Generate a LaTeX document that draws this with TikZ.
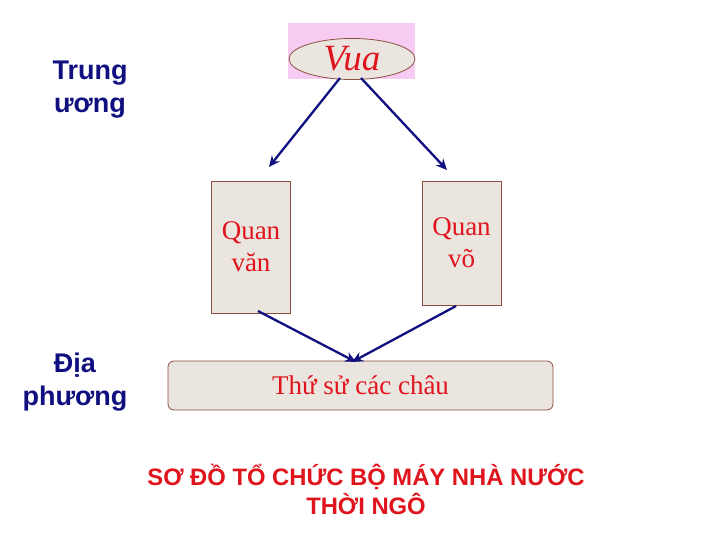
\documentclass[tikz,border=0pt]{standalone}
\usepackage{fontspec}
\setmainfont{Liberation Serif}
\setsansfont{Liberation Sans}
\usetikzlibrary{arrows.meta,shapes.geometric}
\definecolor{navy}{HTML}{0F0F80}
\definecolor{arrowc}{HTML}{101080}
\definecolor{redt}{HTML}{E0141C}
\definecolor{boxfill}{HTML}{EBE5DF}
\definecolor{boxline}{HTML}{8C5040}
\definecolor{pinkbg}{HTML}{F8CCF2}
\tikzset{
  lbl/.style={font=\sffamily\bfseries\fontsize{27}{33}\selectfont, text=navy, align=center},
  boxq/.style={draw=boxline, line width=0.8pt, fill=boxfill, text=redt, align=center,
    font=\fontsize{27}{32}\selectfont, inner sep=0pt},
  conn/.style={draw=arrowc, line width=2.3pt, -{Stealth[length=11pt,width=10pt]}},
}
\begin{document}
\begin{tikzpicture}[x=1pt,y=-1pt]
\useasboundingbox[fill=white] (0,0) rectangle (720,540);
% Vua
\node[fill=pinkbg, minimum width=127pt, minimum height=56pt, inner sep=0pt] (pink) at (351.5,51) {};
\node[ellipse, draw=boxline, line width=0.8pt, fill=boxfill, minimum width=126pt, minimum height=41pt,
  inner sep=0pt, text=redt, font=\itshape\fontsize{37}{37}\selectfont] (vua) at (352,59) {Vua};
% side labels
\node[lbl] (tw) at (90,90) {Trung\\ương};
\node[lbl] (dp) at (75,382) {Địa\\phương};
% boxes
\node[boxq, minimum width=79pt, minimum height=132pt] (qvan) at (251,247) {Quan\\văn};
\node[boxq, minimum width=79pt, minimum height=124pt] (qvo) at (461.5,243) {Quan\\võ};
\node[boxq, rounded corners=6pt, minimum width=385pt, minimum height=49pt] (tsu) at (360.5,385.5) {Thứ sử các châu};
% connector ends
\coordinate (v1) at (340,78);
\coordinate (v2) at (361,78);
\coordinate (t1) at (269,167);
\coordinate (t2) at (447,170);
\coordinate (b1) at (258,311);
\coordinate (b2) at (456,306);
\coordinate (t3) at (356,362);
\coordinate (t4) at (352,362);
\draw[conn] (v1) -- (t1);
\draw[conn] (v2) -- (t2);
\draw[conn] (b1) -- (t3);
\draw[conn] (b2) -- (t4);
% title
\node[font=\sffamily\bfseries\fontsize{23.8}{29}\selectfont, text=redt, align=center] (title) at (366,489)
  {SƠ ĐỒ TỔ CHỨC BỘ MÁY NHÀ NƯỚC\\THỜI NGÔ};
\end{tikzpicture}
\end{document}
